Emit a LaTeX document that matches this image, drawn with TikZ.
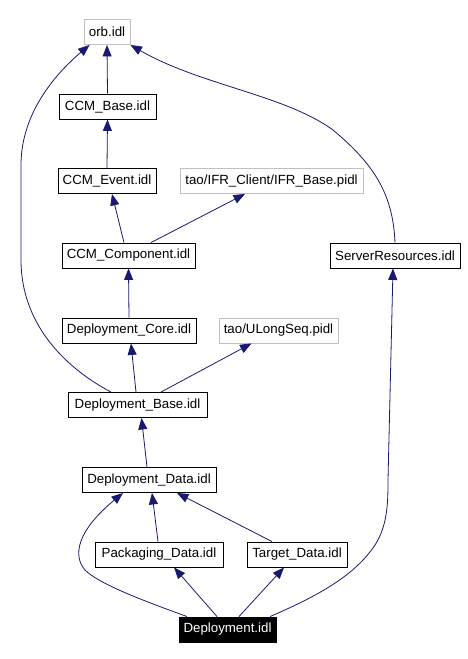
\documentclass[tikz,border=0pt]{standalone}
\usepackage{fontspec}
\setmainfont{Liberation Sans}
\usetikzlibrary{arrows.meta}
\definecolor{edgecol}{HTML}{191970}
\definecolor{grayb}{HTML}{BFBFBF}
\begin{document}
\begin{tikzpicture}[x=1pt,y=-1pt,
  box/.style={draw=black,line width=0.9pt,fill=white,inner sep=0pt,minimum height=25pt,font=\fontsize{13.3}{15}\selectfont},
  gbox/.style={box,draw=grayb},
  cur/.style={box,fill=black,text=white},
  dep/.style={draw=edgecol,line width=0.8pt,{Triangle[length=11.5pt,width=9pt]}-}]
\useasboundingbox[fill=white] (0,0) rectangle (467,659);
\node[gbox,minimum width=46pt]  (orb)  at (107,32)    {orb.idl};
\node[box,minimum width=97pt]   (cbase) at (107.5,106.5) {CCM\_Base.idl};
\node[box,minimum width=98pt]   (cev)  at (107,181)   {CCM\_Event.idl};
\node[gbox,minimum width=183pt] (ifr)  at (271.5,181) {tao/IFR\_Client/IFR\_Base.pidl};
\node[box,minimum width=133pt]  (ccomp) at (128.5,255.5) {CCM\_Component.idl};
\node[box,minimum width=130pt]  (sr)   at (395,255.5) {ServerResources.idl};
\node[box,minimum width=134pt]  (dcore) at (129,330.5) {Deployment\_Core.idl};
\node[gbox,minimum width=119pt] (ulong) at (278.5,330.5) {tao/ULongSeq.pidl};
\node[box,minimum width=139pt]  (dbase) at (137.5,405) {Deployment\_Base.idl};
\node[box,minimum width=134pt]  (ddata) at (149,480) {Deployment\_Data.idl};
\node[box,minimum width=128pt]  (pdata) at (159,554.5) {Packaging\_Data.idl};
\node[box,minimum width=100pt]  (tdata) at (297,554.5) {Target\_Data.idl};
\node[cur,minimum width=97pt]   (dep)  at (227.5,629.5) {Deployment.idl};
% edges (arrow at the included file)
\draw[dep] (orb.south) -- (cbase.north);
\draw[dep] ([xshift=6pt]orb.south west) .. controls (60,70) and (21,110) .. (21,165) -- (21,260) .. controls (21,320) and (60,365) .. ([xshift=-26.5pt]dbase.north);
\draw[dep] (orb.south east) .. controls (200,85) and (285,95) .. (333,130) .. controls (375,165) and (393,195) .. (sr.north);
\draw[dep] (cbase.south) -- (cev.north);
\draw[dep] ([xshift=5pt]cev.south) -- ([xshift=-4.5pt]ccomp.north);
\draw[dep] ([xshift=-26.5pt]ifr.south) -- ([xshift=22.5pt]ccomp.north);
\draw[dep] (ccomp.south) -- (dcore.north);
\draw[dep] ([xshift=2pt]dcore.south) -- ([xshift=-1.5pt]dbase.north);
\draw[dep] ([xshift=-27pt]ulong.south) -- ([xshift=23.5pt]dbase.north);
\draw[dep] ([xshift=-2pt]sr.south) -- (388,480) .. controls (388,500) and (388,525) .. (375,545) .. controls (355,575) and (320,595) .. ([xshift=42.5pt]dep.north);
\draw[dep] ([xshift=4pt]dbase.south) -- ([xshift=-2pt]ddata.north);
\draw[dep] ([xshift=-26pt]ddata.south) .. controls (78,530) and (72,555) .. (85,570) .. controls (100,585) and (150,603) .. ([xshift=-40.5pt]dep.north);
\draw[dep] ([xshift=3pt]ddata.south) -- ([xshift=-1pt]pdata.north);
\draw[dep] ([xshift=28pt]ddata.south) -- ([xshift=-25pt]tdata.north);
\draw[dep] ([xshift=15pt]pdata.south) -- ([xshift=-10.5pt]dep.north);
\draw[dep] ([xshift=-13pt]tdata.south) -- ([xshift=11.5pt]dep.north);
\end{tikzpicture}
\end{document}
